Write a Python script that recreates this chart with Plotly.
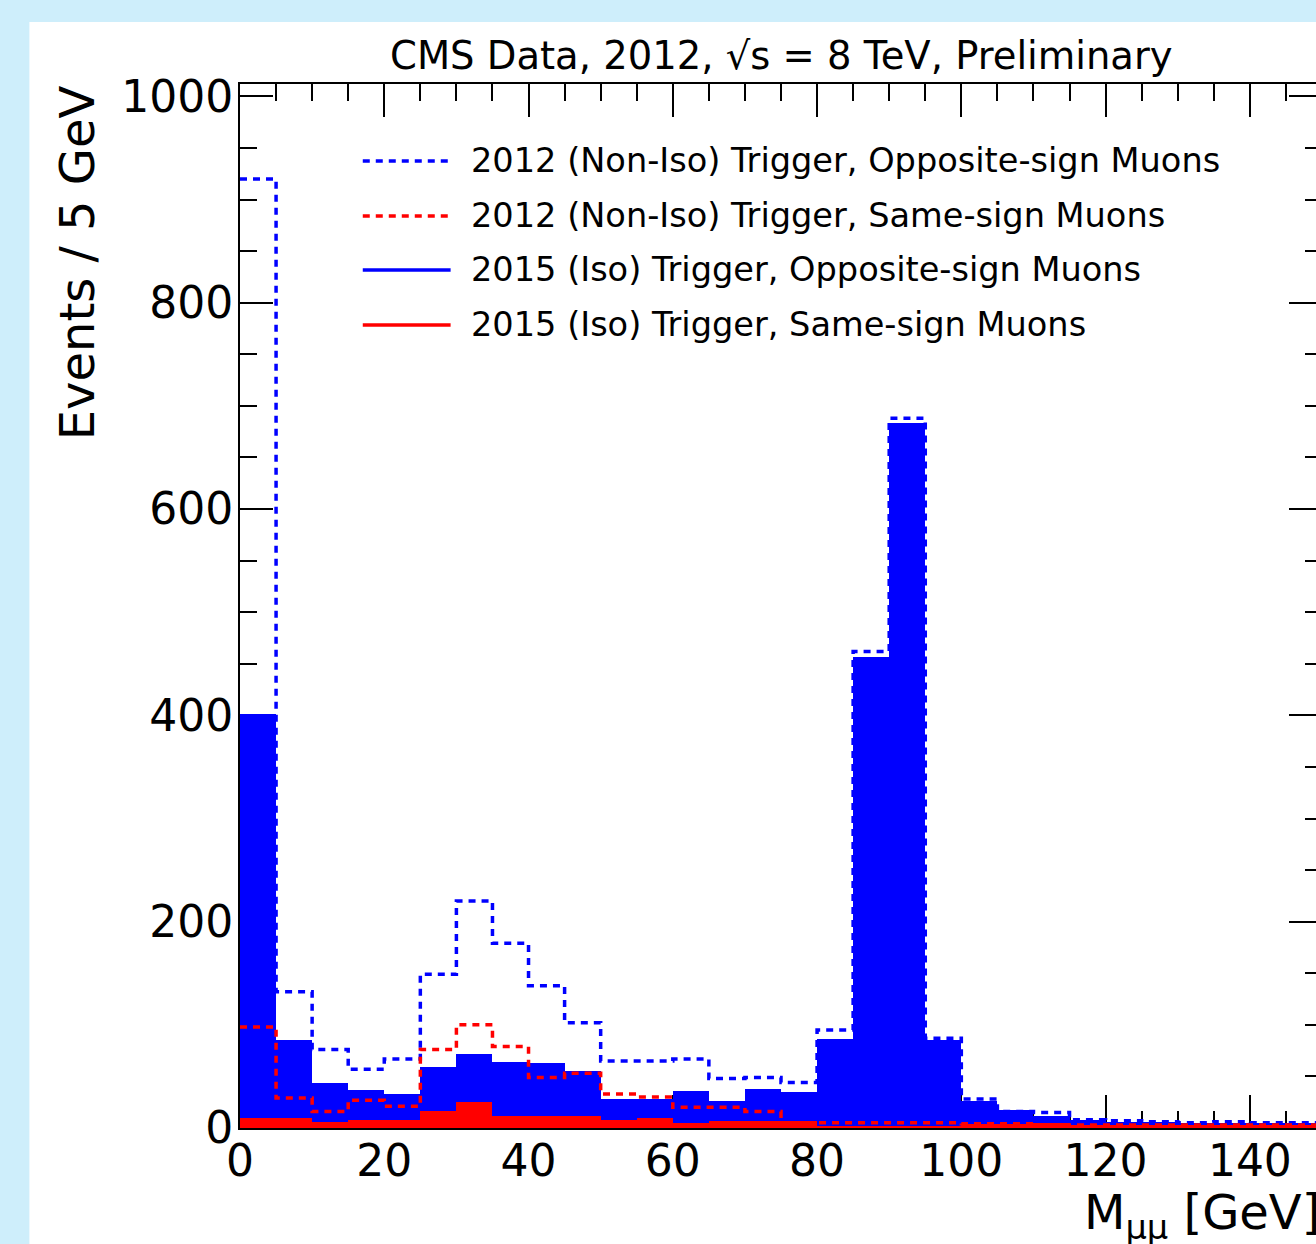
import plotly.graph_objects as go

# ---------------- data (events per 5 GeV bin, 0-150 GeV) ----------------
bin_edges = list(range(0, 155, 5))
bin_centers = [e + 2.5 for e in bin_edges[:-1]]

nonIso_OS_2012 = [920, 132, 76, 57, 67, 149, 220, 179, 138, 102,
                  65, 65, 67, 48, 49, 44, 95, 462, 688, 87,
                  28, 16, 15, 8, 7, 6, 5, 6, 5, 5]
nonIso_SS_2012 = [98, 29, 16, 27, 21, 76, 100, 79, 49, 53,
                  33, 30, 20, 20, 16, 4, 5, 5, 5, 5,
                  4, 4, 3, 3, 3, 3, 3, 3, 3, 3]
iso_OS_2015 = [401, 85, 44, 37, 33, 59, 72, 64, 63, 55,
               28, 28, 36, 26, 38, 35, 86, 457, 683, 85,
               26, 17, 12, 8, 6, 5.5, 4.5, 5, 4.5, 4.5]
iso_SS_2015 = [10, 10, 5.5, 7.7, 7.7, 16.5, 25, 12, 12, 12,
               8, 9.5, 5, 6.5, 7, 7, 2, 2, 2, 2,
               4, 4, 5, 3, 3, 3, 3, 3, 3, 3]

legend_labels = ["2012 (Non-Iso) Trigger, Opposite-sign Muons",
                 "2012 (Non-Iso) Trigger, Same-sign Muons",
                 "2015 (Iso) Trigger, Opposite-sign Muons",
                 "2015 (Iso) Trigger, Same-sign Muons"]
title_text = "CMS Data, 2012, \u221As = 8 TeV, Preliminary"
y_title = "Events / 5 GeV"
x_title = "M<sub>\u03bc\u03bc</sub> [GeV]"

# ---------------- layout geometry ----------------
W, H = 1332, 1244
L, R, T, B = 240, 8, 84, 116
PW, PH = W - L - R, H - T - B
FONT = "DejaVu Sans"
BLUE, RED = "#0000ff", "#ff0000"
DOT = "7px,6px"


def xp(px):
    return (px - L) / PW


def yp(py):
    return (H - B - py) / PH


fig = go.Figure()

# filled 2015 histograms
fig.add_trace(go.Bar(x=bin_centers, y=iso_OS_2015, width=5,
                     marker=dict(color=BLUE, line=dict(width=0)),
                     name=legend_labels[2], showlegend=False))
fig.add_trace(go.Bar(x=bin_centers, y=iso_SS_2015, width=5,
                     marker=dict(color=RED, line=dict(width=0)),
                     name=legend_labels[3], showlegend=False))

# dotted 2012 step histograms
for vals, col, lab in [(nonIso_OS_2012, BLUE, legend_labels[0]),
                       (nonIso_SS_2012, RED, legend_labels[1])]:
    fig.add_trace(go.Scatter(x=bin_edges, y=vals + [vals[-1]], mode="lines",
                             line=dict(color=col, width=3.5, dash=DOT, shape="hv"),
                             name=lab, showlegend=False))

axis_common = dict(
    showline=True, linecolor="black", linewidth=2, mirror="ticks",
    ticks="inside", tickcolor="black", tickwidth=2, ticklen=33,
    showgrid=False, zeroline=False, layer="below traces",
    tickfont=dict(family=FONT, size=44, color="black"),
)

fig.update_xaxes(range=[0, 150], tick0=0, dtick=20, ticklabelstandoff=-7,
                 minor=dict(dtick=5, tick0=0, ticks="inside", ticklen=17,
                            tickwidth=2, tickcolor="black", showgrid=False),
                 **axis_common)
fig.update_yaxes(range=[0, 1012], tick0=0, dtick=200, ticklabelstandoff=-4,
                 minor=dict(dtick=50, tick0=0, ticks="inside", ticklen=17,
                            tickwidth=2, tickcolor="black", showgrid=False),
                 **axis_common)

shapes = [dict(type="rect", xref="paper", yref="paper", layer="below",
               x0=xp(29), x1=xp(W + 20), y0=yp(H + 20), y1=yp(22),
               fillcolor="white", line=dict(width=0))]
annotations = []

# legend (manual, ROOT style)
leg_rows = [161, 216, 270, 325]
leg_styles = [(BLUE, DOT), (RED, DOT), (BLUE, "solid"), (RED, "solid")]
for rowy, (col, dash), lab in zip(leg_rows, leg_styles, legend_labels):
    shapes.append(dict(type="line", xref="paper", yref="paper", layer="above",
                       x0=xp(363), x1=xp(451), y0=yp(rowy), y1=yp(rowy),
                       line=dict(color=col, width=3.5, dash=dash)))
    annotations.append(dict(text=lab, xref="paper", yref="paper",
                            x=xp(469), y=yp(rowy), xanchor="left", yanchor="middle",
                            showarrow=False,
                            font=dict(family=FONT, size=33.6, color="black")))

# title
annotations.append(dict(text=title_text, xref="paper", yref="paper",
                        x=xp(782), y=yp(55), xanchor="center", yanchor="middle",
                        showarrow=False, font=dict(family=FONT, size=38.5, color="black")))
# y-axis title
annotations.append(dict(text=y_title, xref="paper", yref="paper", textangle=-90,
                        x=xp(77), y=yp(263), xanchor="center", yanchor="middle",
                        showarrow=False, font=dict(family=FONT, size=48, color="black")))
# x-axis title
annotations.append(dict(text=x_title, xref="paper", yref="paper",
                        x=xp(1324), y=yp(1182), xanchor="right", yanchor="top",
                        showarrow=False, font=dict(family=FONT, size=48, color="black")))

fig.update_layout(
    width=W, height=H,
    margin=dict(l=L, r=R, t=T, b=B, pad=0),
    paper_bgcolor="rgb(206,238,251)",
    plot_bgcolor="white",
    barmode="overlay", bargap=0,
    showlegend=False,
    shapes=shapes, annotations=annotations,
    font=dict(family=FONT, color="black"),
)

fig.write_html("out.html",
               post_script="document.documentElement.style.overflow='hidden';"
                           "document.body.style.overflow='hidden';"
                           "document.body.style.margin='0';")
